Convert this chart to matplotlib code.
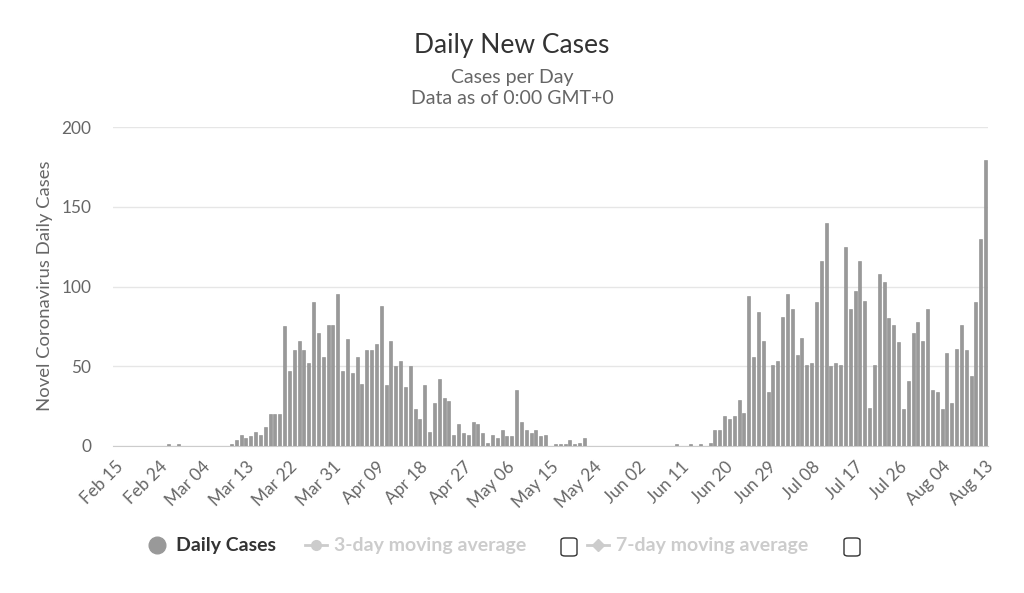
"""
Daily New Cases - bar chart
"""
import numpy as np
import pandas as pd
import matplotlib
matplotlib.use('Agg')
import matplotlib.pyplot as plt
from matplotlib.lines import Line2D
from matplotlib.patches import FancyBboxPatch

plt.rcParams['font.family'] = ['Lato', 'DejaVu Sans']

# daily new cases, Feb 15 -> Aug 13
daily_cases = [
    0, 0, 0, 0, 0, 0, 0, 0, 0, 0, 0, 1, 0, 1, 0, 0, 0, 0, 0, 0,
    0, 0, 0, 0, 1, 4, 7, 5, 6, 9, 7, 12, 20, 20, 20, 75, 47, 60, 66, 60,
    52, 90, 71, 56, 76, 76, 95, 47, 67, 46, 56, 39, 60, 60, 64, 88, 38, 66, 50, 53,
    37, 50, 23, 17, 38, 9, 27, 42, 30, 28, 7, 14, 8, 7, 15, 14, 8, 2, 7, 5,
    10, 6, 6, 35, 15, 10, 8, 10, 6, 7, 0, 1, 1, 1, 4, 1, 2, 5, 0, 0,
    0, 0, 0, 0, 0, 0, 0, 0, 0, 0, 0, 0, 0, 0, 0, 0, 1, 0, 0, 1,
    0, 1, 0, 2, 10, 10, 19, 17, 19, 29, 21, 94, 56, 84, 66, 34, 51, 53, 81, 95,
    86, 57, 68, 51, 52, 90, 116, 140, 50, 52, 51, 125, 86, 97, 116, 91, 24, 51, 108, 103,
    80, 76, 65, 23, 41, 71, 78, 66, 86, 35, 34, 23, 58, 27, 61, 76, 60, 44, 90, 130,
    179,
]
dates = pd.date_range('2020-02-15', periods=len(daily_cases), freq='D')
date_labels = [d.strftime('%b %d') for d in dates]
y_ticks = [0, 50, 100, 150, 200]

fig = plt.figure(figsize=(10.24, 5.93), dpi=100)
ax = fig.add_axes([113 / 1024, 1 - 446 / 593, 875 / 1024, 319 / 593])

x = np.arange(len(daily_cases))
ax.bar(x, daily_cases, width=0.62, color='#999999', edgecolor='#8a8a8a', linewidth=0.4, zorder=3)

ax.set_xlim(-0.5, len(daily_cases) - 0.5)
ax.set_ylim(0, 200)
ax.set_yticks(y_ticks)
ax.set_yticklabels([str(v) for v in y_ticks], fontsize=12.4, color='#666666')
ax.grid(axis='y', color='#e6e6e6', linewidth=1, zorder=0)
ax.tick_params(axis='y', length=0, pad=15.5)

tick_pos = x[::9]
ax.set_xticks(tick_pos)
ax.set_xticklabels([date_labels[i] for i in tick_pos], rotation=45, ha='right',
                   rotation_mode='anchor', fontsize=12.4, color='#666666')
ax.tick_params(axis='x', length=0, pad=9)

for s in ['top', 'right', 'left']:
    ax.spines[s].set_visible(False)
ax.spines['bottom'].set_color('#cccccc')

fig.text(45 / 1024, 1 - 286 / 593, 'Novel Coronavirus Daily Cases', rotation=90,
         ha='center', va='center', fontsize=13.3, color='#666666')

fig.text(0.5, 1 - 45 / 593, 'Daily New Cases', ha='center', va='center', fontsize=19, color='#333333')
fig.text(0.5, 1 - 78 / 593, 'Cases per Day', ha='center', va='center', fontsize=14, color='#666666')
fig.text(0.5, 1 - 99 / 593, 'Data as of 0:00 GMT+0', ha='center', va='center', fontsize=14, color='#666666')

# legend drawn by hand
ly = 1 - 545 / 593
fig.add_artist(Line2D([157 / 1024], [ly], marker='o', markersize=12, color='#999999', linestyle='none'))
fig.text(176 / 1024, ly, 'Daily Cases', ha='left', va='center', fontsize=14, fontweight='bold', color='#333333')

fig.add_artist(Line2D([305 / 1024, 327 / 1024], [ly, ly], color='#cccccc', linewidth=2))
fig.add_artist(Line2D([316 / 1024], [ly], marker='o', markersize=7, color='#cccccc', linestyle='none'))
fig.text(334 / 1024, ly, '3-day moving average', ha='left', va='center', fontsize=14, fontweight='bold', color='#cccccc')

fig.add_artist(Line2D([587 / 1024, 609 / 1024], [ly, ly], color='#cccccc', linewidth=2))
fig.add_artist(Line2D([598 / 1024], [ly], marker='D', markersize=6, color='#cccccc', linestyle='none'))
fig.text(616 / 1024, ly, '7-day moving average', ha='left', va='center', fontsize=14, fontweight='bold', color='#cccccc')

for cx in [569, 852]:
    box = FancyBboxPatch(((cx - 8) / 1024, 1 - 556 / 593), 16 / 1024, 18 / 593,
                         boxstyle='round,pad=0,rounding_size=0.004', transform=fig.transFigure,
                         facecolor='white', edgecolor='#333333', linewidth=1)
    fig.add_artist(box)

fig.savefig('out.png', dpi=100)
